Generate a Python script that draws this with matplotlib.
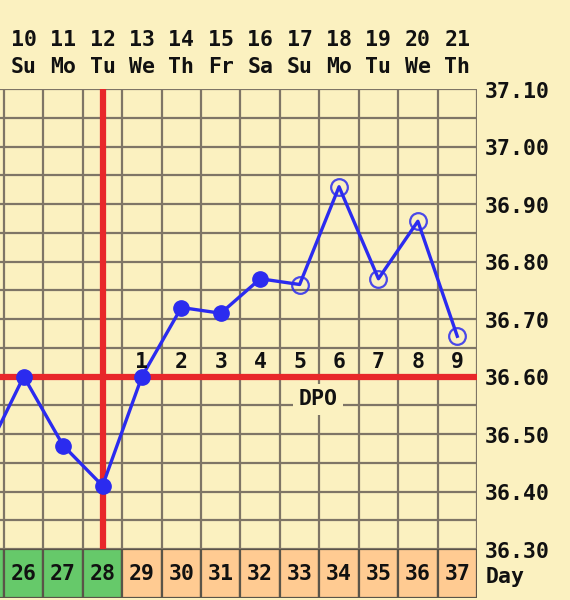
import matplotlib
matplotlib.use("Agg")
import matplotlib.pyplot as plt
from matplotlib.transforms import blended_transform_factory

# ---- data ----
days = [9, 10, 11, 12, 13, 14, 15, 16, 17, 18, 19, 20, 21]
temps = [36.46, 36.60, 36.48, 36.41, 36.60, 36.72, 36.71, 36.77, 36.76, 36.93, 36.77, 36.87, 36.67]
filled_days = [9, 10, 11, 12, 13, 14, 15, 16]
open_days = [17, 18, 19, 20, 21]
label_days = [10, 11, 12, 13, 14, 15, 16, 17, 18, 19, 20, 21]
weekdays = ["Su", "Mo", "Tu", "We", "Th", "Fr", "Sa", "Su", "Mo", "Tu", "We", "Th"]
cycle_days = [25, 26, 27, 28, 29, 30, 31, 32, 33, 34, 35, 36, 37]
green_cycle_days = [25, 26, 27, 28]
dpo_days = [13, 14, 15, 16, 17, 18, 19, 20, 21]
dpo_labels = ["1", "2", "3", "4", "5", "6", "7", "8", "9"]
y_ticks = [36.30, 36.40, 36.50, 36.60, 36.70, 36.80, 36.90, 37.00, 37.10]
coverline = 36.60
ovulation_day = 12

# ---- style ----
BG = "#fbf1c0"
GRID = "#7e7566"
BLUE = "#2b2bef"
RED = "#e8262a"
GREEN = "#66c96a"
ORANGE = "#ffcb92"
FONT = dict(family="DejaVu Sans Mono", weight="bold", fontsize=15.5, color="#111111")

W, H = 570, 600
fig = plt.figure(figsize=(W / 100, H / 100), dpi=100, facecolor=BG)

x_left = 9.5 - 4 / 39.42
x_right = 21.5
ax = fig.add_axes([0, 1 - 549 / H, 477 / W, (549 - 89) / H])
ax.set_facecolor(BG)
ax.set_xlim(x_left, x_right)
ax.set_ylim(36.30, 37.10)
ax.set_xticks([])
ax.set_yticks([])
for s in ax.spines.values():
    s.set_visible(False)

# grid
for i in range(13):
    ax.axvline(9.5 + i, color=GRID, lw=1.6, zorder=1)
for j in range(17):
    ax.axhline(36.30 + 0.05 * j, color=GRID, lw=1.6, zorder=1)

# coverline & ovulation line
ax.axhline(coverline, color=RED, lw=4.5, zorder=2)
ax.axvline(ovulation_day, color=RED, lw=4.5, zorder=2)

# temperature line
ax.plot(days, temps, color=BLUE, lw=2.4, zorder=4, clip_on=True)
fx = [d for d in days if d in filled_days]
fy = [t for d, t in zip(days, temps) if d in filled_days]
ox = [d for d in days if d in open_days]
oy = [t for d, t in zip(days, temps) if d in open_days]
ax.plot(fx, fy, "o", color=BLUE, ms=11, zorder=5)
ax.plot(ox, oy, "o", mfc="none", mec=BLUE, mew=1.6, ms=12, zorder=5, alpha=0.85)

# DPO labels
for d, lab in zip(dpo_days, dpo_labels):
    ax.text(d, 36.625, lab, ha="center", va="center", zorder=6, **FONT)
ax.text(17.47, 36.560, "DPO", ha="center", va="center", zorder=6,
        bbox=dict(boxstyle="square,pad=0.25", fc=BG, ec="none"), **FONT)

# top labels
tr_top = blended_transform_factory(ax.transData, fig.transFigure)
for d, wd in zip(label_days, weekdays):
    ax.text(d, 1 - 40 / H, str(d), ha="center", va="center", transform=tr_top, clip_on=False, **FONT)
    ax.text(d, 1 - 67 / H, wd, ha="center", va="center", transform=tr_top, clip_on=False, **FONT)

# right labels
tr_right = blended_transform_factory(fig.transFigure, ax.transData)
for v in y_ticks:
    ax.text(485 / W, v - 0.005, f"{v:.2f}", ha="left", va="center", transform=tr_right,
            clip_on=False, **FONT)

# cycle day row
ax2 = fig.add_axes([0, 1 - 598 / H, 477 / W, 49 / H])
ax2.set_xlim(x_left, x_right)
ax2.set_ylim(0, 1)
ax2.axis("off")
colors = [GREEN if c in green_cycle_days else ORANGE for c in cycle_days]
ax2.bar(days, [1] * len(days), width=1, bottom=0, color=colors, edgecolor="#5a5448", lw=1.6)
for d, c in zip(days, cycle_days):
    if d in label_days:
        ax2.text(d, 0.5, str(c), ha="center", va="center", **FONT)
fig.text(486 / W, 1 - 577 / H, "Day", ha="left", va="center", **FONT)

fig.savefig("out.png", dpi=100, facecolor=BG)
